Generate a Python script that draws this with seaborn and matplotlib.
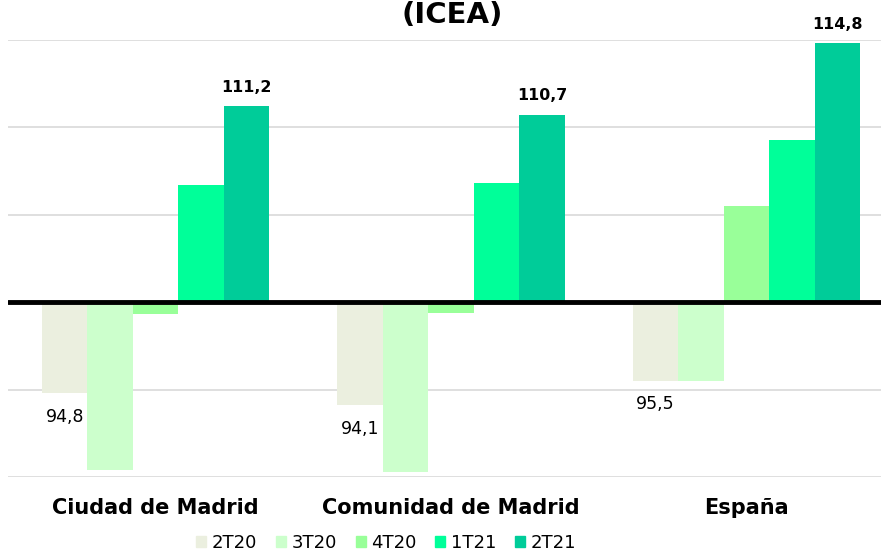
import matplotlib
matplotlib.use("Agg")
import matplotlib.pyplot as plt
import seaborn as sns
import pandas as pd

regions = ["Ciudad de Madrid", "Comunidad de Madrid", "España"]
periods = ["2T20", "3T20", "4T20", "1T21", "2T21"]
v_2t20 = [94.8, 94.1, 95.5]
v_3t20 = [90.4, 90.3, 95.5]
v_4t20 = [99.3, 99.4, 105.5]
v_1t21 = [106.7, 106.8, 109.3]
v_2t21 = [111.2, 110.7, 114.8]
colors = ["#EBEFDF", "#CCFFCC", "#99FF99", "#00FF99", "#00CC99"]

rows = []
for p, vals in zip(periods, [v_2t20, v_3t20, v_4t20, v_1t21, v_2t21]):
    for r, v in zip(regions, vals):
        rows.append({"region": r, "period": p, "value": v})
df = pd.DataFrame(rows)
df["delta"] = df["value"] - 100

sns.set_style("white")
plt.rcParams["text.color"] = "black"
plt.rcParams["xtick.color"] = "black"
fig = plt.figure(figsize=(8.81, 5.54), dpi=100)
ax = fig.add_axes([8 / 881, 77 / 554, 1 - 8 / 881, (477 - 40) / 554])

# grid lines every 5 points, baseline at 100
for g in [90, 95, 105, 110, 115]:
    ax.axhline(g - 100, color="#D9D9D9", lw=1.2, zorder=0)

sns.barplot(data=df, x="region", y="delta", hue="period", order=regions,
            hue_order=periods, palette=colors, width=0.77, gap=0,
            saturation=1, linewidth=0, ax=ax, legend=False, zorder=2)
ax.axhline(0, color="black", lw=3.5, zorder=3)

ax.set_ylim(-10, 15)
ax.set_xlim(-0.5, 2.456)
for s in ax.spines.values():
    s.set_visible(False)
ax.set_yticks([])
ax.set_xlabel("")
ax.set_ylabel("")
ax.tick_params(axis="x", length=0, pad=15)
ax.set_xticks(range(3))
ax.set_xticklabels(regions, fontsize=15, fontweight="bold", color="black")

bw = 0.77 / 5
for i in range(3):
    x0 = i - 0.77 / 2 + bw / 2
    ax.text(x0, v_2t20[i] - 100 - 1.35, f"{v_2t20[i]:.1f}".replace(".", ","),
            ha="center", va="center", fontsize=12.5, color="black")
    ax.text(x0 + 4 * bw, v_2t21[i] - 100 + 1.1, f"{v_2t21[i]:.1f}".replace(".", ","),
            ha="center", va="center", fontsize=11.4, fontweight="bold", color="black")

fig.text(452 / 881, 1 - 23 / 554, "(ICEA)", ha="center", va="baseline",
         fontsize=21, fontweight="bold", color="black")

handles = [plt.Rectangle((0, 0), 1, 1, color=c) for c in colors]
fig.legend(handles, periods, loc="center", bbox_to_anchor=(386 / 881, 1 - 543 / 554),
           ncol=5, frameon=False, fontsize=13, handlelength=0.55, handleheight=0.55,
           handletextpad=0.3, columnspacing=1.05, labelcolor="black",
           borderpad=0.2)

fig.savefig("out.png", dpi=100)
